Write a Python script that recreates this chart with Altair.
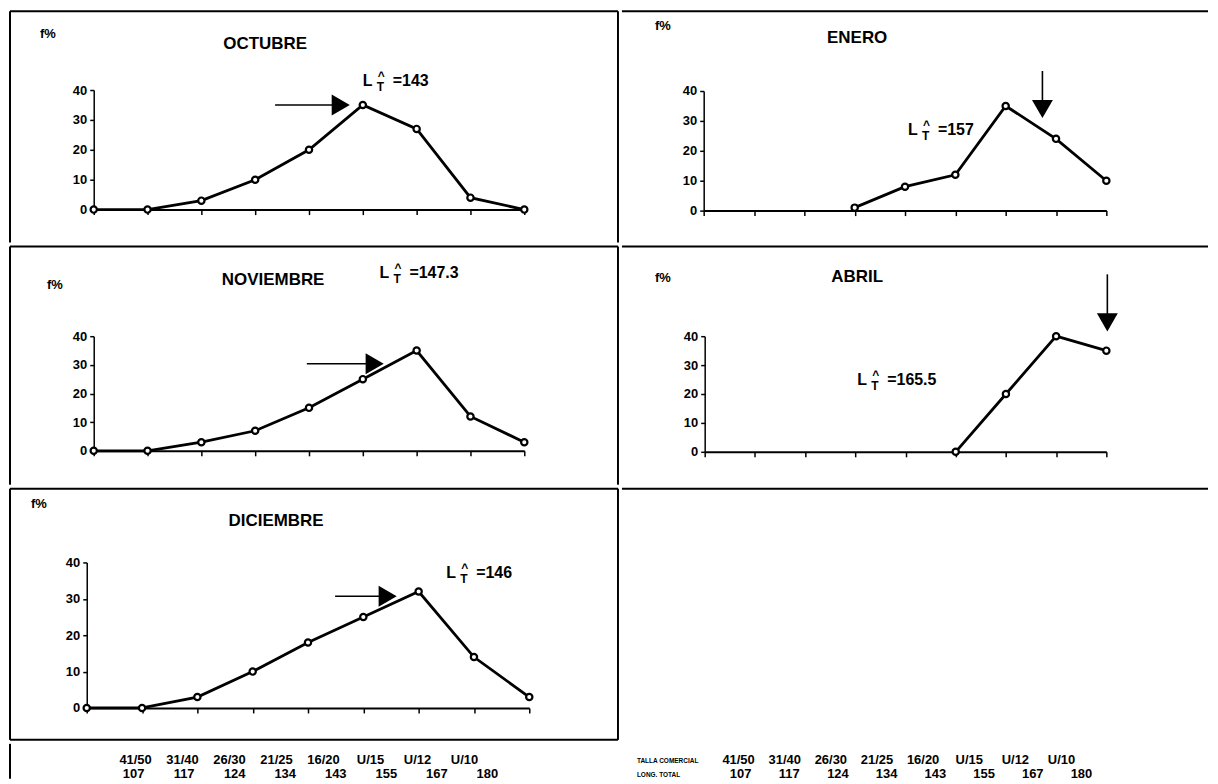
import altair as alt
import pandas as pd

FONT = "Arial"

# ---------------- data ----------------
talla = ["41/50", "31/40", "26/30", "21/25", "16/20", "U/15", "U/12", "U/10"]
longitud = ["107", "117", "124", "134", "143", "155", "167", "180"]

octubre = [0, 0, 3, 10, 20, 35, 27, 4, 0]
enero = [None, None, None, 1, 8, 12, 35, 24, 10]
noviembre = [0, 0, 3, 7, 15, 25, 35, 12, 3]
abril = [None, None, None, None, None, 0, 20, 40, 35]
diciembre = [0, 0, 3, 10, 18, 25, 32, 14, 3]

# annotation "L_T^ = value": anchor (class index, f%) and text
ann_oct = (5.0, 43, "=143")
ann_ene = (4.06, 27, "=157")
ann_nov = (5.31, 62, "=147.3")
ann_abr = (3.04, 25, "=165.5")
ann_dic = (6.5, 37, "=146")

# arrows: horizontal (tail index, head index, f%) / vertical (index, top f%, head f%)
arr_oct = ("h", 3.37, 4.59, 35)
arr_nov = ("h", 3.96, 5.22, 30.4)
arr_dic = ("h", 4.49, 5.44, 30.7)
arr_ene = ("v", 6.73, 46.7, 34)
arr_abr = ("v", 8.02, 61.4, 44.8)

ONE = pd.DataFrame({"a": [0]})
BW = 2  # border width


def text_at(txt, x, y, size, weight="bold", align="center"):
    return alt.Chart(ONE).mark_text(
        text=txt, font=FONT, fontSize=size, fontWeight=weight, align=align,
        baseline="middle", color="black"
    ).encode(x=alt.value(x), y=alt.value(y))


def hline(y, W):
    return alt.Chart(ONE).mark_rule(color="black", strokeWidth=BW).encode(
        x=alt.value(1), x2=alt.value(W - 1), y=alt.value(y))


def vline(x, H):
    return alt.Chart(ONE).mark_rule(color="black", strokeWidth=BW).encode(
        x=alt.value(x), y=alt.value(1), y2=alt.value(H - 1))


def panel(vals, W, H, xr, yr, title, tpos, fpos, ann, arrow, borders):
    df = pd.DataFrame({
        "i": [i for i, v in enumerate(vals) if v is not None],
        "v": [v for v in vals if v is not None],
    })
    xs = alt.Scale(domain=[0, 8], range=xr)
    ys = alt.Scale(domain=[0, 40], range=yr)
    xax = alt.Axis(values=list(range(9)), labels=False, title=None, grid=False,
                   offset=-(H - yr[0]), tickSize=5, tickWidth=1.5, tickColor="black",
                   domainColor="black", domainWidth=2)
    yax = alt.Axis(values=[0, 10, 20, 30, 40], title=None, grid=False,
                   offset=-xr[0], tickSize=4, tickWidth=1.5, tickColor="black",
                   domainColor="black", domainWidth=1.5,
                   labelFont=FONT, labelFontSize=13, labelFontWeight="bold",
                   labelColor="black", labelPadding=3)
    X = alt.X("i:Q", scale=xs, axis=xax)
    Y = alt.Y("v:Q", scale=ys, axis=yax)

    line = alt.Chart(df).mark_line(color="black", strokeWidth=2.8).encode(x=X, y=Y)
    pts = alt.Chart(df).mark_point(shape="circle", filled=True, fill="white",
                                   stroke="black", strokeWidth=2.2, size=40,
                                   opacity=1).encode(x=X, y=Y)

    # arrow
    if arrow[0] == "h":
        adf = pd.DataFrame({"i": [arrow[1]], "i2": [arrow[2]], "v": [arrow[3]]})
        shaft = alt.Chart(adf).mark_rule(color="black", strokeWidth=1.6).encode(
            x=X, x2=alt.X2("i2:Q"), y=Y)
        hdf = pd.DataFrame({"i": [arrow[2]], "v": [arrow[3]]})
        head = alt.Chart(hdf).mark_point(shape="triangle-right", filled=True,
                                         color="black", size=440, opacity=1).encode(x=X, y=Y)
    else:
        adf = pd.DataFrame({"i": [arrow[1]], "v": [arrow[2]], "v2": [arrow[3]]})
        shaft = alt.Chart(adf).mark_rule(color="black", strokeWidth=1.6).encode(
            x=X, y=Y, y2=alt.Y2("v2:Q"))
        hdf = pd.DataFrame({"i": [arrow[1]], "v": [arrow[3]]})
        head = alt.Chart(hdf).mark_point(shape="triangle-down", filled=True,
                                         color="black", size=440, opacity=1).encode(x=X, y=Y)

    # annotation L_T^
    ndf = pd.DataFrame({"i": [ann[0]], "v": [ann[1]], "txt": [ann[2]]})
    base = alt.Chart(ndf)
    tL = base.mark_text(text="L", font=FONT, fontSize=16, fontWeight="bold",
                        align="left", baseline="middle", color="black").encode(x=X, y=Y)
    tT = base.mark_text(text="T", font=FONT, fontSize=12, fontWeight="bold",
                        align="left", baseline="middle", dx=14, dy=6,
                        color="black").encode(x=X, y=Y)
    tH = base.mark_text(text="^", font=FONT, fontSize=12, fontWeight="bold",
                        align="left", baseline="middle", dx=15, dy=-5,
                        color="black").encode(x=X, y=Y)
    tV = base.mark_text(font=FONT, fontSize=16, fontWeight="bold",
                        align="left", baseline="middle", dx=30,
                        color="black").encode(x=X, y=Y, text="txt:N")

    layers = [line, pts, shaft, head, tL, tT, tH, tV,
              text_at(title, tpos[0], tpos[1], 17),
              text_at("f%", fpos[0], fpos[1], 13)]
    if "t" in borders:
        layers.append(hline(1, W))
    if "b" in borders:
        layers.append(hline(H - 1, W))
    if "l" in borders:
        layers.append(vline(1, H))
    if "r" in borders:
        layers.append(vline(W - 1, H))
    return alt.layer(*layers).properties(
        width=W, height=H, view=alt.ViewBackground(stroke="transparent"))


LW, RW = 612, 590
H1, H2, H3, H4 = 234, 241, 254, 37

p_oct = panel(octubre, LW, H1, [85, 517], [200, 80], "OCTUBRE", (257, 34), (39, 24),
              ann_oct, arr_oct, "tlr")
p_ene = panel(enero, RW, H1, [83, 487], [201, 81], "ENERO", (237, 28), (42, 16),
              ann_ene, arr_ene, "t")
p_nov = panel(noviembre, LW, H2, [85, 517], [206, 91], "NOVIEMBRE", (265, 35), (46, 40),
              ann_nov, arr_nov, "tlr")
p_abr = panel(abril, RW, H2, [84, 487], [207, 91], "ABRIL", (237, 32), (42, 33),
              ann_abr, arr_abr, "t")
p_dic = panel(diciembre, LW, H3, [78, 522], [221, 75], "DICIEMBRE", (268, 33), (30, 16),
              ann_dic, arr_dic, "tlrb")

empty = alt.layer(
    hline(1, RW),
).properties(width=RW, height=H3, view=alt.ViewBackground(stroke="transparent"))


def label_rows(W, H, r1, r2, extra):
    d1 = pd.DataFrame({"k": list(range(len(talla))), "lab": talla})
    d2 = pd.DataFrame({"k": list(range(len(longitud))), "lab": longitud})
    t1 = alt.Chart(d1).mark_text(font=FONT, fontSize=13, fontWeight="bold",
                                 color="black", baseline="middle").encode(
        x=alt.X("k:Q", scale=alt.Scale(domain=[0, 7], range=r1), axis=None),
        y=alt.value(17), text="lab:N")
    t2 = alt.Chart(d2).mark_text(font=FONT, fontSize=13, fontWeight="bold",
                                 color="black", baseline="middle").encode(
        x=alt.X("k:Q", scale=alt.Scale(domain=[0, 7], range=r2), axis=None),
        y=alt.value(31), text="lab:N")
    return alt.layer(t1, t2, *extra).resolve_scale(x="independent").properties(
        width=W, height=H, view=alt.ViewBackground(stroke="transparent"))


lab_left = label_rows(LW, H4, [127, 457], [125, 480], [vline(1, H4)])
lab_right = label_rows(RW, H4, [118, 442], [120, 462], [
    text_at("TALLA COMERCIAL", 16, 18, 6.5, align="left"),
    text_at("LONG. TOTAL", 16, 32, 6.5, align="left"),
])

chart = alt.vconcat(
    alt.hconcat(p_oct, p_ene, spacing=0),
    alt.hconcat(p_nov, p_abr, spacing=0),
    alt.hconcat(p_dic, empty, spacing=0),
    alt.hconcat(lab_left, lab_right, spacing=0),
    spacing=0,
).properties(
    padding={"top": 0, "left": 0, "right": 0, "bottom": 0},
    background="white",
).configure_concat(spacing=0)

chart.save("out.html", embed_options={"renderer": "svg", "actions": False})
